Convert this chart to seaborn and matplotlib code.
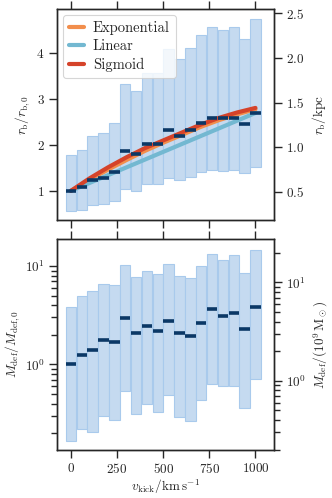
import numpy as np
import matplotlib
matplotlib.use("Agg")
import matplotlib.pyplot as plt
import seaborn as sns

# kick velocity bins (km/s)
v_kick = np.linspace(0, 1000, 18)

# core radius r_b / r_b,0 : median and spread
rb_med = [1.00, 1.08, 1.23, 1.29, 1.41, 1.88, 1.80, 2.02, 2.02, 2.32, 2.19, 2.33,
          2.49, 2.60, 2.58, 2.60, 2.45, 2.69]
rb_lo = [0.56, 0.59, 0.69, 0.72, 0.78, 1.05, 1.00, 1.15, 1.15, 1.29, 1.23, 1.31,
         1.40, 1.45, 1.44, 1.45, 1.38, 1.52]
rb_hi = [1.78, 1.90, 2.19, 2.27, 2.48, 3.34, 3.18, 3.58, 3.58, 4.09, 3.87, 4.11,
         4.40, 4.58, 4.52, 4.58, 4.31, 4.75]

# mass deficit M_def / M_def,0 : median and spread
md_med = [1.00, 1.25, 1.39, 1.78, 1.71, 2.96, 2.07, 2.43, 2.20, 2.78, 2.07, 1.93,
          2.63, 3.68, 3.12, 3.30, 2.29, 3.86]
md_lo = [0.165, 0.22, 0.205, 0.30, 0.27, 0.535, 0.31, 0.395, 0.325, 0.49, 0.29, 0.263,
         0.434, 0.63, 0.607, 0.607, 0.357, 0.715]
md_hi = [3.80, 4.95, 5.61, 6.61, 6.36, 10.2, 7.73, 8.83, 8.23, 10.4, 7.91, 7.55,
         10.0, 13.3, 11.5, 12.8, 8.55, 14.7]

# fitted relations r_b(v_kick)
fit_v = [0, 100, 200, 300, 400, 500, 600, 700, 800, 900, 1000]
fit_exp = [1.00, 1.24, 1.46, 1.67, 1.87, 2.05, 2.22, 2.39, 2.54, 2.67, 2.78]
fit_sig = [1.00, 1.27, 1.51, 1.73, 1.93, 2.10, 2.27, 2.44, 2.59, 2.71, 2.81]
lin_v = [0, 1000]
fit_lin = [1.00, 2.70]

rb0_kpc = 0.513
mdef0 = 1.466

sns.set_theme(style="ticks")
plt.rcParams["font.family"] = "serif"
plt.rcParams["font.serif"] = ["cmr10", "DejaVu Serif"]
plt.rcParams["mathtext.fontset"] = "cm"
plt.rcParams["axes.formatter.use_mathtext"] = True
plt.rcParams["font.size"] = 9.5
plt.rcParams["xtick.labelsize"] = 9.5
plt.rcParams["ytick.labelsize"] = 9.5
plt.rcParams["axes.linewidth"] = 1.0
plt.rcParams["xtick.major.width"] = 1.0
plt.rcParams["ytick.major.width"] = 1.0
plt.rcParams["xtick.major.pad"] = 2.5
plt.rcParams["ytick.major.pad"] = 3

bar_fc = "#c5daf0"
bar_ec = "#a9caec"
med_c = "#0b3866"
dv = v_kick[1] - v_kick[0]

fig = plt.figure(figsize=(3.32, 4.98), dpi=100)
ax1 = fig.add_axes([0.172, 0.558, 0.653, 0.423])
ax2 = fig.add_axes([0.172, 0.0964, 0.653, 0.4231])


def spread_panel(ax, med, lo, hi):
    lo = np.asarray(lo)
    hi = np.asarray(hi)
    ax.bar(v_kick, hi - lo, bottom=lo, width=dv * 0.96, color=bar_fc,
           edgecolor=bar_ec, linewidth=0.8, zorder=1)
    ax.hlines(med, v_kick - dv * 0.48, v_kick + dv * 0.48, color=med_c,
              linewidth=2.6, zorder=5)


# top panel: core radius
spread_panel(ax1, rb_med, rb_lo, rb_hi)
sns.lineplot(x=fit_v, y=fit_exp, color="#f28e4c", linewidth=3, label="Exponential", ax=ax1, zorder=3)
sns.lineplot(x=lin_v, y=fit_lin, color="#73b8d1", linewidth=3, label="Linear", ax=ax1, zorder=3)
sns.lineplot(x=fit_v, y=fit_sig, color="#d5432a", linewidth=3, label="Sigmoid", ax=ax1, zorder=3)
ax1.set_xlim(-75, 1100)
ax1.set_ylim(0.36, 4.96)
ax1.set_yticks([1, 2, 3, 4])
ax1.set_xticks([0, 250, 500, 750, 1000])
ax1.tick_params(axis="x", top=True, bottom=True, labelbottom=False, direction="out")
ax1.set_ylabel(r"$r_\mathrm{b}/r_\mathrm{b,0}$", fontsize=9.5, labelpad=3)
ax1.set_xlabel("")
leg = ax1.legend(loc="upper left", fontsize=10.5, framealpha=0.8, handlelength=1.05,
                 borderpad=0.4, labelspacing=0.3, handletextpad=0.6, borderaxespad=0.4)
leg.get_frame().set_linewidth(0.8)

ax1r = ax1.twinx()
ax1r.set_ylim(0.36 * rb0_kpc, 4.96 * rb0_kpc)
ax1r.set_yticks([0.5, 1.0, 1.5, 2.0, 2.5])
ax1r.set_ylabel(r"$r_\mathrm{b}/\mathrm{kpc}$", fontsize=9.5, labelpad=4)

# bottom panel: mass deficit
spread_panel(ax2, md_med, md_lo, md_hi)
ax2.set_yscale("log")
ax2.set_xlim(-75, 1100)
ax2.set_ylim(0.135, 18.7)
ax2.set_xticks([0, 250, 500, 750, 1000])
ax2.tick_params(axis="x", top=True, bottom=True, direction="out")
ax2.tick_params(axis="y", which="both", left=True)
ax2.set_ylabel(r"$M_\mathrm{def}/M_\mathrm{def,0}$", fontsize=9.5, labelpad=2)
ax2.set_xlabel(r"$v_\mathrm{kick}/\mathrm{km\,s^{-1}}$", fontsize=9.5, labelpad=1)

ax2r = ax2.twinx()
ax2r.set_yscale("log")
ax2r.set_ylim(0.135 * mdef0, 18.7 * mdef0)
ax2r.set_ylabel(r"$M_\mathrm{def}/(10^9\,\mathrm{M}_\odot)$", fontsize=9.5, labelpad=4)

fig.savefig("out.png", dpi=100)
